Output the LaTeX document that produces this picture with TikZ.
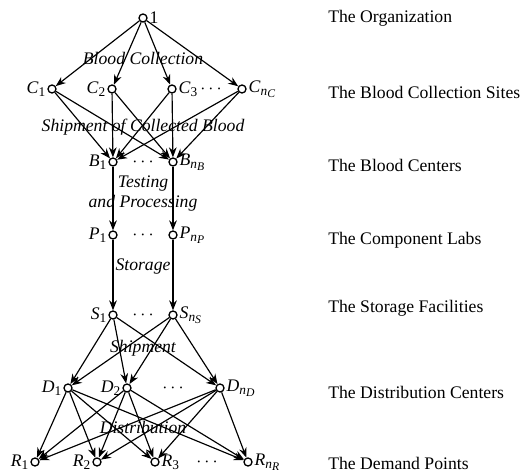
\documentclass[tikz,border=0pt]{standalone}
\usepackage{fontspec}
\setmainfont{Liberation Serif}
\usetikzlibrary{arrows.meta}
\newcommand{\nsub}[2]{\textit{#1}\raisebox{-0.35ex}{\footnotesize #2}}
\newcommand{\nsubn}[2]{\textit{#1}\raisebox{-0.35ex}{\footnotesize\textit{n}\raisebox{-0.3ex}{\scriptsize\textit{#2}}}}
\begin{document}
\begin{tikzpicture}[x=0.6pt,y=-0.6pt,
  every node/.style={font=\fontsize{10.6}{12.5}\selectfont},
  vtx/.style={circle,draw,line width=0.8pt,inner sep=0pt,minimum size=4.8pt},
  arr/.style={-{Stealth[length=6pt,width=4.6pt]},line width=0.7pt},
  elab/.style={font=\fontsize{10.6}{12}\selectfont\itshape,inner sep=0pt,align=center},
  lvl/.style={anchor=west,inner sep=0pt},
  nl/.style={inner sep=1pt}]
\useasboundingbox (0,0) rectangle (523,473);
% nodes
\node[vtx,label={[nl]right:1}] (O) at (143,18) {};
\node[vtx,label={[nl]left:\nsub{C}{1}}] (C1) at (52,89) {};
\node[vtx,label={[nl]left:\nsub{C}{2}}] (C2) at (112,89) {};
\node[vtx,label={[nl]right:\nsub{C}{3}}] (C3) at (172,89) {};
\node[vtx,label={[nl]right:\nsubn{C}{C}}] (Cn) at (242,89) {};
\node[vtx,label={[nl]left:\nsub{B}{1}}] (B1) at (113,162) {};
\node[vtx,label={[nl]right:\nsubn{B}{B}}] (Bn) at (173,162) {};
\node[vtx,label={[nl]left:\nsub{P}{1}}] (P1) at (113,235) {};
\node[vtx,label={[nl]right:\nsubn{P}{P}}] (Pn) at (173,235) {};
\node[vtx,label={[nl]left:\nsub{S}{1}}] (S1) at (113,315) {};
\node[vtx,label={[nl]right:\nsubn{S}{S}}] (Sn) at (173,315) {};
\node[vtx,label={[nl]left:\nsub{D}{1}}] (D1) at (68,388) {};
\node[vtx,label={[nl]left:\nsub{D}{2}}] (D2) at (127,388) {};
\node[vtx,label={[nl]right:\nsubn{D}{D}}] (Dn) at (220,388) {};
\node[vtx,label={[nl]left:\nsub{R}{1}}] (R1) at (35,462) {};
\node[vtx,label={[nl]left:\nsub{R}{2}}] (R2) at (97,462) {};
\node[vtx,label={[nl]right:\nsub{R}{3}}] (R3) at (155,462) {};
\node[vtx,label={[nl]right:\nsubn{R}{R}}] (Rn) at (248,462) {};
% dots
\node (dc) at (211,89) {$\cdots$};
\node (db) at (143,162) {$\cdots$};
\node (dp) at (143,235) {$\cdots$};
\node (ds) at (143,315) {$\cdots$};
\node (dd) at (173,388) {$\cdots$};
\node (dr) at (207,462) {$\cdots$};
% edges
\foreach \t in {C1,C2,C3,Cn} \draw[arr] (O) -- (\t);
\foreach \s in {C1,C2,C3,Cn} \foreach \t in {B1,Bn} \draw[arr] (\s) -- (\t);
\draw[arr] (B1) -- (P1);
\draw[arr] (Bn) -- (Pn);
\draw[arr] (P1) -- (S1);
\draw[arr] (Pn) -- (Sn);
\foreach \s in {S1,Sn} \foreach \t in {D1,D2,Dn} \draw[arr] (\s) -- (\t);
\foreach \s in {D1,D2,Dn} \foreach \t in {R1,R2,R3,Rn} \draw[arr] (\s) -- (\t);
% edge labels
\node[elab] (l1) at (143,58) {Blood Collection};
\node[elab] (l2) at (143,127) {Shipment of Collected Blood};
\node[elab] (l3) at (143,194) {Testing\\and Processing};
\node[elab] (l4) at (143,267) {Storage};
\node[elab] (l5) at (143,348) {Shipment};
\node[elab] (l6) at (143,427) {Distribution};
% level labels
\node[lvl] (t1) at (328,18) {The Organization};
\node[lvl] (t2) at (328,92) {The Blood Collection Sites};
\node[lvl] (t3) at (328,165) {The Blood Centers};
\node[lvl] (t4) at (328,240) {The Component Labs};
\node[lvl] (t5) at (328,308) {The Storage Facilities};
\node[lvl] (t6) at (328,392) {The Distribution Centers};
\node[lvl] (t7) at (328,463) {The Demand Points};
\end{tikzpicture}
\end{document}
